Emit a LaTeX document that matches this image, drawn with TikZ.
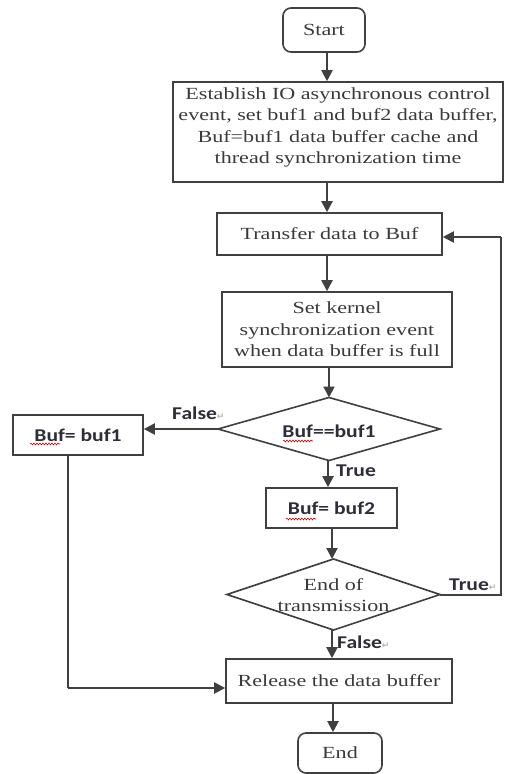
\documentclass[tikz,border=0pt]{standalone}
\usepackage{fontspec}
\setmainfont{Liberation Serif}[FakeStretch=1.3]
\newfontfamily\lblfont{Carlito}[FakeStretch=1.2]
\newfontfamily\symfont{DejaVu Sans}
\usetikzlibrary{arrows.meta,decorations.pathmorphing}
\definecolor{ink}{HTML}{3A3A3A}
\definecolor{linec}{HTML}{404040}
\definecolor{lbl}{HTML}{2E2E3A}
\tikzset{
  box/.style={draw=linec, line width=1.6pt, rectangle, inner sep=0pt, align=center, text=ink,
    font=\fontsize{17}{21.5}\selectfont},
  term/.style={box, rounded corners=8pt},
  dectext/.style={inner sep=0pt, align=center, text=ink, font=\fontsize{17}{21.5}\selectfont},
  decline/.style={draw=linec, line width=1.6pt},
  arr/.style={draw=linec, line width=2pt, -{Triangle[length=11pt,width=11pt]}},
  conn/.style={draw=linec, line width=2pt},
  tag/.style={inner sep=0pt, text=lbl, font=\lblfont\bfseries\fontsize{18}{20}\selectfont},
  bold/.style={font=\lblfont\bfseries\fontsize{18}{20}\selectfont, text=lbl},
  spell/.style={draw=red!80!black, line width=0.6pt, decorate,
    decoration={snake, amplitude=0.9pt, segment length=3pt}}
}
\newcommand{\retmark}{\textcolor{gray!60}{\symfont\fontsize{9}{10}\selectfont ↵}}
\begin{document}
\begin{tikzpicture}[x=1pt,y=-1pt]
\useasboundingbox (0,0) rectangle (504,774);
\fill[white] (0,0) rectangle (504,774);

\node[term, minimum width=82pt, minimum height=44pt] (start) at (324,30) {Start};
\node[box, minimum width=330pt, minimum height=100pt] (est) at (338,132)
  {Establish IO asynchronous control\\event, set buf1 and buf2 data buffer,\\Buf=buf1 data buffer cache and\\thread synchronization time\\[-9pt]\mbox{}};
\node[box, minimum width=225pt, minimum height=42pt] (xfer) at (329.5,234) {Transfer data to Buf};
\node[box, minimum width=230pt, minimum height=75pt] (kern) at (337,329.5)
  {Set kernel\\synchronization event\\when data buffer is full};

% decision 1
\coordinate (d1n) at (329,397.5);
\coordinate (d1e) at (440,429);
\coordinate (d1s) at (329,460.5);
\coordinate (d1w) at (218,429);
\draw[decline] (d1n) -- (d1e) -- (d1s) -- (d1w) -- cycle;
\node[dectext, bold] (d1) at (329,431) {Buf==buf1};

\node[box, minimum width=130pt, minimum height=40pt, bold] (b1) at (78,435) {Buf= buf1};
\node[box, minimum width=131pt, minimum height=40pt, bold] (b2) at (331.5,508) {Buf= buf2};

% decision 2
\coordinate (d2n) at (333.5,559);
\coordinate (d2e) at (440,594.5);
\coordinate (d2s) at (333.5,630);
\coordinate (d2w) at (227,594.5);
\draw[decline] (d2n) -- (d2e) -- (d2s) -- (d2w) -- cycle;
\node[dectext] (d2) at (333.5,595) {End of\\transmission};

\node[box, minimum width=226pt, minimum height=44pt] (rel) at (339,681) {Release the data buffer};
\node[term, minimum width=84pt, minimum height=40pt] (fin) at (340,753) {End};

% labels
\node[tag, anchor=west] (lf1) at (172,413) {False\retmark};
\node[tag, anchor=west] (lt1) at (336,471) {True};
\node[tag, anchor=west] (lt2) at (449,585) {True\retmark};
\node[tag, anchor=west] (lf2) at (337,642) {False\retmark};

% connectors
\coordinate (s1) at (327,52);
\draw[arr] (s1) -- (s1 |- est.north);
\coordinate (s2) at (327,182);
\draw[arr] (s2) -- (s2 |- xfer.north);
\coordinate (s3) at (327,255);
\draw[arr] (s3) -- (s3 |- kern.north);
\coordinate (s4) at (329,367);
\draw[arr] (s4) -- (d1n);
\draw[arr] (d1w) -- (d1w -| b1.east);
\coordinate (s5) at (328,460.5);
\draw[arr] (s5) -- (s5 |- b2.north);
\coordinate (s6) at (332,528);
\draw[arr] (s6) -- (s6 |- d2n);
\coordinate (s7) at (332,630);
\draw[arr] (s7) -- (s7 |- rel.north);
\coordinate (s8) at (333,703);
\draw[arr] (s8) -- (s8 |- fin.north);
% loop back
\coordinate (lpb) at (501,594.5);
\coordinate (lpt) at (501,237);
\draw[conn] (d2e) -- (lpb) -- (lpt);
\draw[arr] (lpt) -- (lpt -| xfer.east);
% buf1 to release
\coordinate (b1s) at (68,455);
\coordinate (b1c) at (68,688);
\draw[conn] (b1s) -- (b1c);
\draw[arr] (b1c) -- (b1c -| rel.west);

% spell-check squiggles
\draw[spell] (30,444) -- (60,444);
\draw[spell] (283,441) -- (313,441);
\draw[spell] (286,519) -- (316,519);
\end{tikzpicture}
\end{document}
